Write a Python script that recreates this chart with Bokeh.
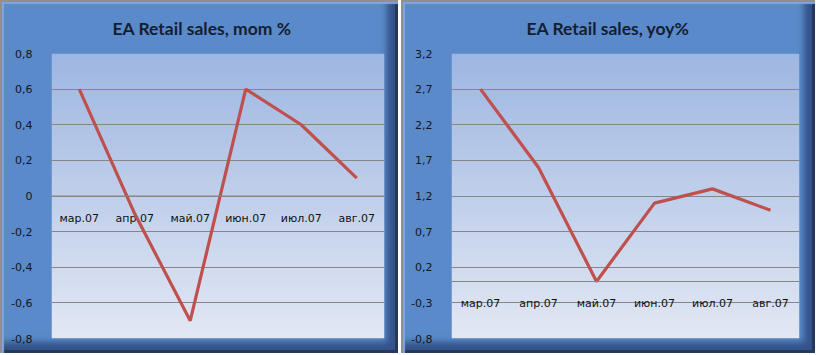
import numpy as np
from bokeh.plotting import figure
from bokeh.layouts import row
from bokeh.models import Range1d, FixedTicker, Span
from bokeh.core.properties import value
from bokeh.embed import file_html
from bokeh.resources import INLINE

# ---- data ----
months = ["мар.07", "апр.07", "май.07", "июн.07", "июл.07", "авг.07"]
mom = [0.6, -0.1, -0.7, 0.6, 0.4, 0.1]
yoy = [2.7, 1.6, 0.0, 1.1, 1.3, 1.0]
mom_ticks = [-0.8, -0.6, -0.4, -0.2, 0.0, 0.2, 0.4, 0.6, 0.8]
yoy_ticks = [-0.8, -0.3, 0.2, 0.7, 1.2, 1.7, 2.2, 2.7, 3.2]
titles = ["EA Retail sales, mom %", "EA Retail sales, yoy%"]

LINE = "#c0504d"
GRID = "#868686"
TXT = "#15151f"
PANEL = "#5a8ac9"


def gradient(n=200):
    top = np.array([0x9e, 0xb7, 0xe2])
    bot = np.array([0xe2, 0xe8, 0xf4])
    t = np.linspace(0, 1, n)[:, None]          # row 0 = bottom
    rgb = (bot * (1 - t) + top * t).astype(np.uint32)
    img = (255 << 24) | (rgb[:, 2] << 16) | (rgb[:, 1] << 8) | rgb[:, 0]
    return img.reshape(n, 1).astype(np.uint32)


def fmt(v):
    s = ("%.1f" % v).replace(".", ",")
    return "0" if abs(v) < 1e-9 else s


def make(title, vals, ticks, width, bl, br, title_off):
    lo, hi = ticks[0], ticks[-1]
    n = len(months)
    p = figure(width=width, height=353, output_backend="svg", toolbar_location=None,
               x_range=Range1d(-0.5, n - 0.5), y_range=Range1d(lo, hi),
               min_border_left=bl, min_border_right=br, min_border_top=53,
               min_border_bottom=15,
               styles={"background-color": PANEL,
                       "box-shadow": "inset 2px 2px 0px #8f8f8f, inset 4px 4px 1px #7ea7de, inset -3px -3px 0px #24395c, inset -11px -11px 6px #34538a"})
    p.border_fill_alpha = 0
    p.outline_line_color = None
    p.background_fill_color = None
    p.image_rgba(image=[gradient()], x=-0.5, y=lo, dw=n, dh=hi - lo,
                 level="image")

    p.title.text = title
    p.title.align = "left"
    p.title.offset = title_off
    p.title.standoff = 29
    p.title.text_font = "Lato"
    p.title.text_font_style = "bold"
    p.title.text_font_size = "17.5px"
    p.title.text_color = "#141e33"

    p.xaxis.visible = False
    p.xgrid.visible = False
    ax = p.yaxis[0]
    ax.ticker = FixedTicker(ticks=ticks)
    ax.major_label_overrides = {t: fmt(t) for t in ticks}
    ax.axis_line_color = None
    ax.major_tick_line_color = None
    ax.minor_tick_line_color = None
    ax.major_label_standoff = 13
    ax.major_label_text_font = "DejaVu Sans"
    ax.major_label_text_font_size = "11px"
    ax.major_label_text_color = TXT
    p.ygrid.ticker = FixedTicker(ticks=ticks)
    p.ygrid.grid_line_color = GRID
    p.ygrid.grid_line_width = 1
    p.add_layout(Span(location=0, dimension="width", line_color=GRID, line_width=1))

    xs = list(range(n))
    p.text(x=xs, y=[0] * n, text=months, y_offset=22, text_align="center",
           text_baseline="middle", text_font=value("DejaVu Sans"),
           text_font_size="11px", text_color="#111111")
    p.line(xs, vals, line_color=LINE, line_width=3.2)
    return p


left = make(titles[0], mom, mom_ticks, 398, 51, 14, 61)
right = make(titles[1], yoy, yoy_ticks, 414, 50, 16, 75)
layout = row(left, right, spacing=3)
open("out.html", "w").write(file_html(layout, INLINE))
